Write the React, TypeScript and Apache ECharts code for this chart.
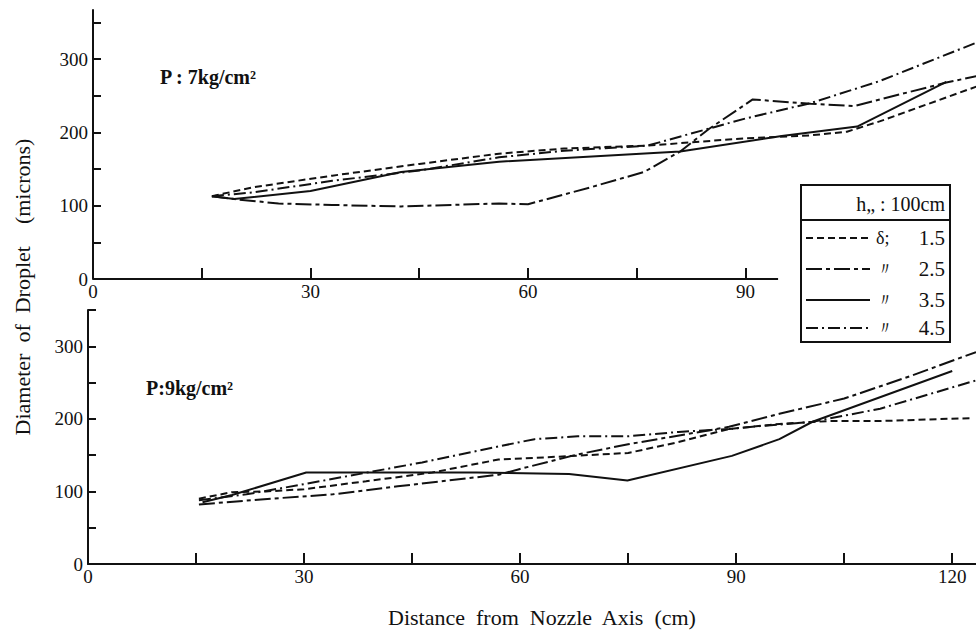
import React, { useEffect, useRef } from 'react';
import * as echarts from 'echarts';

// Legend entries (δ values), same line style in both panels
const entryMarks = ['δ;', '〃', '〃', '〃'];
const entryValues = ['1.5', '2.5', '3.5', '4.5'];
const dashPatterns: (number[] | 'solid')[] = [[7, 4], [16, 4, 4, 4], 'solid', [12, 4, 2, 4]];

// Panel labels
const topLabel = 'P : 7kg/cm²';
const bottomLabel = 'P:9kg/cm²';
const legendTitle = 'h„ : 100cm';
const xName = 'Distance  from  Nozzle  Axis  (cm)';
const yName = 'Diameter  of  Droplet    (microns)';

// Axis ticks / labels
const topXTicks = [15, 30, 45, 60, 75, 90];
const topXLabels = [0, 30, 60, 90];
const botXTicks = [15, 30, 45, 60, 75, 90, 105, 120];
const botXLabels = [0, 30, 60, 90, 120];
const topYTicks = [50, 100, 150, 200, 250, 300, 350];
const botYTicks = [50, 100, 150, 200, 250, 300, 350];
const yLabels = [0, 100, 200, 300];

// Top panel, P = 7 kg/cm²  [distance cm, diameter microns]
const top15 = [[16.4, 113], [22, 125], [33, 141], [45, 157], [56, 171], [65, 178], [76.5, 182], [90, 192], [99, 196], [104, 201], [108.5, 215], [122, 263]];
const top25 = [[16.4, 113], [19.5, 109], [25.6, 103], [33, 101], [42.5, 99], [56, 103], [60, 102], [68.6, 125], [76, 146], [81, 174], [85, 205], [91, 245], [99, 239], [105, 236], [117.7, 268], [122, 277]];
const top35 = [[16.4, 113], [19.5, 109], [30, 120], [42.5, 146], [56, 160], [81, 174], [95, 195], [105.4, 208], [117.7, 269]];
const top45 = [[16.4, 113], [22, 118], [33, 134], [45, 148], [56, 166], [65, 175], [76.5, 182], [90, 219], [99, 240], [108.5, 270], [122, 323]];

// Bottom panel, P = 9 kg/cm²
const bot15 = [[15.4, 90], [20, 99], [24.7, 100], [30, 103], [38.6, 114], [47.8, 126], [57, 144], [63.6, 147], [75, 153], [82, 168], [89, 186], [96, 193], [103, 197], [110, 197], [122.5, 201]];
const bot25 = [[15.4, 82], [24, 89], [34, 96], [43, 107], [57, 123], [60, 131], [68, 151], [75, 165], [89, 189], [96, 207], [105, 228], [114.5, 260], [123.3, 292]];
const bot35 = [[15.9, 85], [20, 95], [30.3, 126], [43, 126], [54, 126], [66.8, 124], [74.9, 115], [89.4, 149], [96, 172], [100.6, 196], [120, 266]];
const bot45 = [[15.4, 88], [22, 96], [30, 110], [46.4, 140], [57, 162], [62, 172], [68, 176], [75, 176], [82, 182], [89, 186], [93.3, 190], [100.6, 196], [110, 214], [123.3, 253]];

const topSeries = [top15, top25, top35, top45];
const botSeries = [bot15, bot25, bot35, bot45];
const topAxisEnd = 94.5;

const FONT = 'Liberation Serif';
const INK = '#111';

export default function App() {
  const ref = useRef<HTMLDivElement>(null);
  useEffect(() => {
    if (!ref.current) return;
    const chart = echarts.init(ref.current, null, { renderer: 'svg' });

    const axisText = { color: INK, fontSize: 19, fontFamily: FONT };
    const mkX = (grid: number, max: number, ticks: number[], labels: number[], showLine: boolean) => ({
      type: 'value', gridIndex: grid, min: 0, max,
      axisLine: { show: showLine, onZero: false, lineStyle: { color: INK, width: 2 } },
      axisTick: { show: true, inside: true, length: 11, customValues: ticks, lineStyle: { color: INK, width: 2 } },
      axisLabel: { ...axisText, customValues: labels, margin: 3 },
      splitLine: { show: false },
    });
    const mkY = (grid: number, max: number, ticks: number[]) => ({
      type: 'value', gridIndex: grid, min: 0, max,
      axisLine: { show: true, onZero: false, lineStyle: { color: INK, width: 2 } },
      axisTick: { show: true, inside: true, length: 8, customValues: ticks, lineStyle: { color: INK, width: 2 } },
      axisLabel: { ...axisText, customValues: yLabels, margin: 5 },
      splitLine: { show: false },
    });

    const series: any[] = [];
    const addPanel = (sets: number[][][], idx: number) => {
      sets.forEach((d, i) => {
        const s: any = {
          type: 'line', name: `${entryMarks[i]} ${entryValues[i]}`, xAxisIndex: idx, yAxisIndex: idx,
          data: d, showSymbol: false, symbol: 'none', clip: true, silent: true,
          lineStyle: { color: INK, width: 2, type: dashPatterns[i] },
        };
        if (idx === 0 && i === 2) {
          s.markLine = {
            silent: true, symbol: ['none', 'none'], label: { show: false },
            lineStyle: { type: 'solid', color: INK, width: 2 },
            data: [[{ coord: [0, 0] }, { coord: [topAxisEnd, 0] }]],
          };
        }
        series.push(s);
      });
    };
    addPanel(topSeries, 0);
    addPanel(botSeries, 1);

    const legendX = 801, legendY = 185, legendW = 149, legendH = 157;
    const rowYs = [238, 269, 300, 328];
    const txt = (x: number, y: number, text: string, size: number, extra: any = {}, z = 10) => ({
      type: 'text', z, x, y, ...(extra.rotation !== undefined ? { rotation: extra.rotation } : {}),
      style: {
        text, fill: INK, fontSize: size, fontFamily: FONT, fontWeight: extra.fontWeight || 'normal',
        align: extra.align || 'left', textAlign: extra.align || 'left',
        verticalAlign: 'middle', textVerticalAlign: 'middle',
      },
    });
    const graphic: any[] = [
      { type: 'rect', z: 100, shape: { x: legendX, y: legendY, width: legendW, height: legendH }, style: { fill: '#fff', stroke: INK, lineWidth: 2 } },
      { type: 'line', z: 101, shape: { x1: legendX, y1: 220, x2: legendX + legendW, y2: 220 }, style: { stroke: INK, lineWidth: 2 } },
      txt(945, 204, legendTitle, 20, { align: 'right' }, 101),
      txt(160, 77, topLabel, 20, { fontWeight: 'bold' }),
      txt(146, 388, bottomLabel, 20, { fontWeight: 'bold' }),
      txt(542, 617, xName, 22, { align: 'center' }),
      txt(22, 287, yName, 22, { align: 'center', rotation: Math.PI / 2 }),
    ];
    entryValues.forEach((v, i) => {
      const y = rowYs[i];
      const dp = dashPatterns[i];
      graphic.push({ type: 'line', z: 101, shape: { x1: 806, y1: y, x2: 870, y2: y }, style: { stroke: INK, lineWidth: 2, lineDash: dp === 'solid' ? null : dp } });
      graphic.push(txt(876, y, entryMarks[i], 18, {}, 101));
      graphic.push(txt(945, y, v, 21, { align: 'right' }, 101));
    });

    chart.setOption({
      animation: false,
      backgroundColor: '#fff',
      grid: [
        { left: 93, top: 10, width: 883, height: 269 },
        { left: 88, top: 310, width: 888, height: 254 },
      ],
      xAxis: [mkX(0, 121.8, topXTicks, topXLabels, false), mkX(1, 123.3, botXTicks, botXLabels, true)],
      yAxis: [mkY(0, 367, topYTicks), mkY(1, 350, botYTicks)],
      series,
      graphic,
    });
    return () => chart.dispose();
  }, []);
  return <div ref={ref} style={{ position: 'absolute', left: 0, top: 0, width: 976, height: 632 }} />;
}
